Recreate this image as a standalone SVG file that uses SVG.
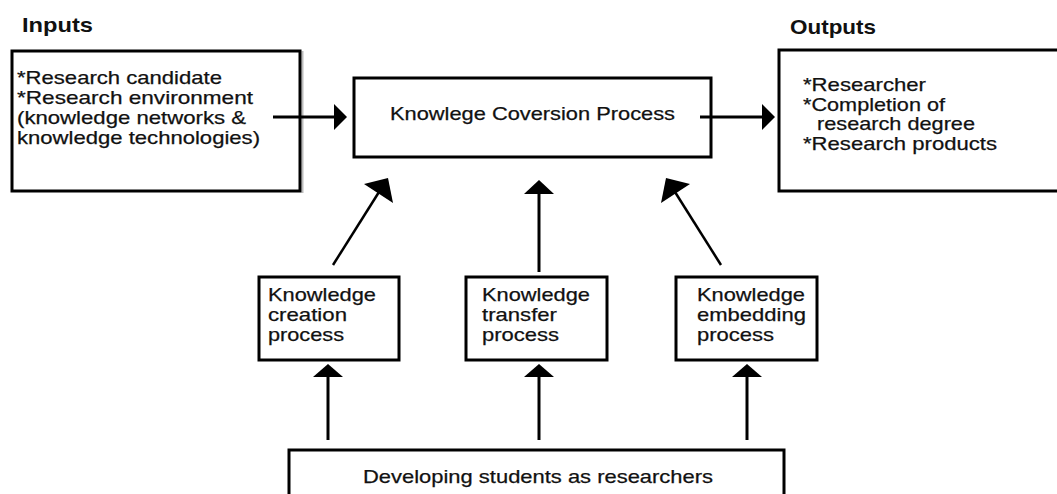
<svg xmlns="http://www.w3.org/2000/svg" width="1057" height="494" viewBox="0 0 1057 494">
<style>
  .box { fill: #fff; stroke: #000; stroke-width: 3; }
  .t { font-family: "Liberation Sans", Arial, sans-serif; font-size: 19px; fill: #111; stroke: #111; stroke-width: 0.25; }
  .title { font-family: "Liberation Sans", Arial, sans-serif; font-size: 21px; font-weight: bold; fill: #111; }
  .line { stroke: #000; stroke-width: 3; fill: none; }
  .diag { stroke: #000; stroke-width: 2.5; fill: none; }
  .head { fill: #000; stroke: none; }
</style>
<rect width="1057" height="494" fill="#fff"/>

<text class="title" x="22" y="32" textLength="71" lengthAdjust="spacingAndGlyphs">Inputs</text>
<text class="title" x="790" y="34" textLength="86" lengthAdjust="spacingAndGlyphs">Outputs</text>

<g id="inputs">
  <line x1="302.5" y1="51" x2="302.5" y2="193" stroke="#bbb" stroke-width="2"/>
  <rect class="box" x="12" y="51" width="288" height="140"/>
  <text class="t" x="17" y="84" textLength="205" lengthAdjust="spacingAndGlyphs">*Research candidate</text>
  <text class="t" x="17" y="104" textLength="236" lengthAdjust="spacingAndGlyphs">*Research environment</text>
  <text class="t" x="17" y="124" textLength="229" lengthAdjust="spacingAndGlyphs">(knowledge networks &amp;</text>
  <text class="t" x="17" y="144" textLength="243" lengthAdjust="spacingAndGlyphs">knowledge technologies)</text>
</g>

<g id="conversion">
  <rect class="box" x="354" y="78" width="357" height="79"/>
  <text class="t" x="390" y="120" textLength="285" lengthAdjust="spacingAndGlyphs">Knowlege Coversion Process</text>
</g>

<g id="outputs">
  <path class="box" d="M1062,50 H779 V191 H1062"/>
  <text class="t" x="803" y="91" textLength="123" lengthAdjust="spacingAndGlyphs">*Researcher</text>
  <text class="t" x="803" y="111" textLength="142" lengthAdjust="spacingAndGlyphs">*Completion of</text>
  <text class="t" x="817" y="130" textLength="158" lengthAdjust="spacingAndGlyphs">research degree</text>
  <text class="t" x="803" y="150" textLength="194" lengthAdjust="spacingAndGlyphs">*Research products</text>
</g>

<g id="creation">
  <rect class="box" x="259" y="277" width="140" height="83"/>
  <text class="t" x="268" y="301" textLength="108" lengthAdjust="spacingAndGlyphs">Knowledge</text>
  <text class="t" x="268" y="321" textLength="79" lengthAdjust="spacingAndGlyphs">creation</text>
  <text class="t" x="268" y="341" textLength="76" lengthAdjust="spacingAndGlyphs">process</text>
</g>

<g id="transfer">
  <rect class="box" x="466" y="277" width="141" height="83"/>
  <text class="t" x="482" y="301" textLength="108" lengthAdjust="spacingAndGlyphs">Knowledge</text>
  <text class="t" x="482" y="321" textLength="75" lengthAdjust="spacingAndGlyphs">transfer</text>
  <text class="t" x="482" y="341" textLength="77" lengthAdjust="spacingAndGlyphs">process</text>
</g>

<g id="embedding">
  <rect class="box" x="676" y="277" width="141" height="83"/>
  <text class="t" x="697" y="301" textLength="108" lengthAdjust="spacingAndGlyphs">Knowledge</text>
  <text class="t" x="697" y="321" textLength="109" lengthAdjust="spacingAndGlyphs">embedding</text>
  <text class="t" x="697" y="341" textLength="77" lengthAdjust="spacingAndGlyphs">process</text>
</g>

<g id="students">
  <path class="box" d="M289,500 V450 H784 V500"/>
  <text class="t" x="363" y="483" textLength="350" lengthAdjust="spacingAndGlyphs">Developing students as researchers</text>
</g>

<g id="connectors">
  <line class="line" x1="273" y1="117" x2="336" y2="117"/>
  <polygon class="head" points="334,104 347,117 334,130"/>
  <line class="line" x1="700" y1="117" x2="764" y2="117"/>
  <polygon class="head" points="762,104 775,117 762,130"/>

  <line class="diag" x1="333" y1="265" x2="379" y2="192"/>
  <polygon class="head" points="388,178 364,184 393,203"/>
  <line class="line" x1="539" y1="272" x2="539" y2="192"/>
  <polygon class="head" points="539,180 524,194 554,194"/>
  <line class="diag" x1="721" y1="265" x2="675" y2="192"/>
  <polygon class="head" points="666,178 690,184 661,203"/>

  <line class="line" x1="328" y1="440" x2="328" y2="375"/>
  <polygon class="head" points="328,364 313,377 343,377"/>
  <line class="line" x1="539" y1="440" x2="539" y2="375"/>
  <polygon class="head" points="539,364 524,377 554,377"/>
  <line class="line" x1="747" y1="440" x2="747" y2="375"/>
  <polygon class="head" points="747,364 732,377 762,377"/>
</g>
</svg>
